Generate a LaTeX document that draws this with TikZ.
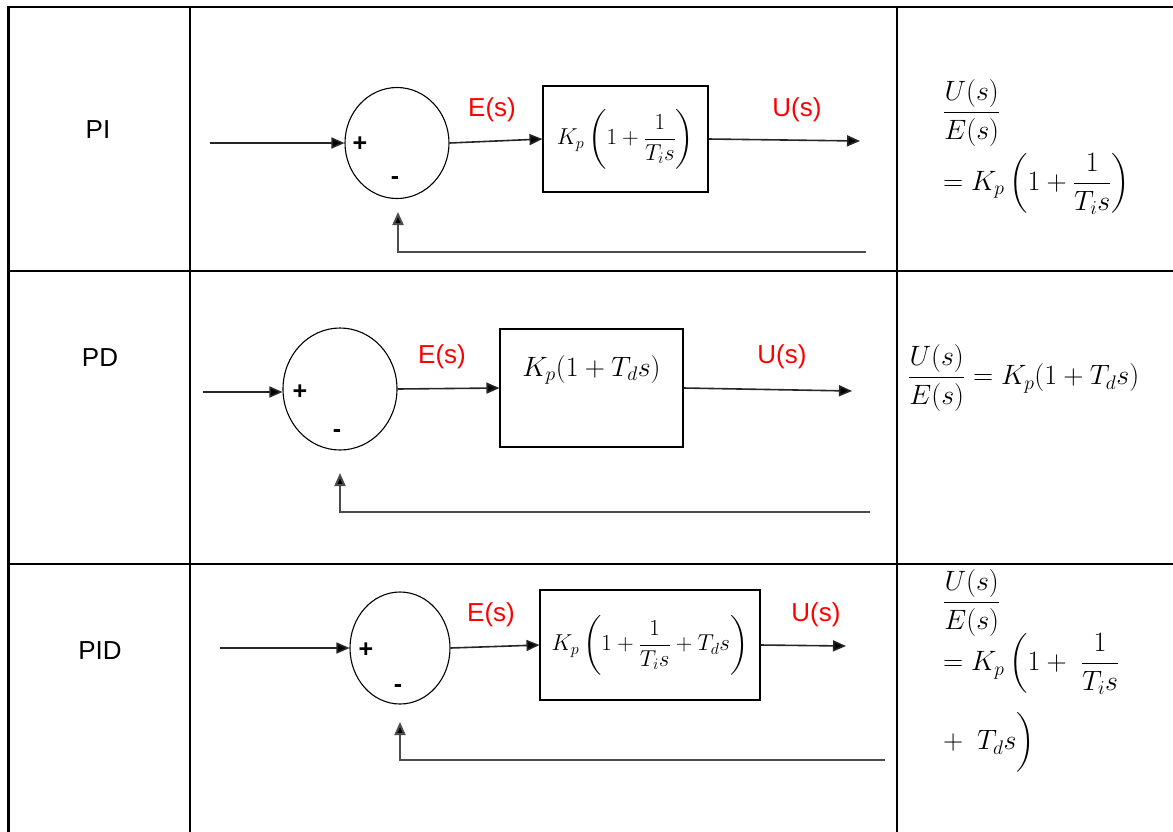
\RequirePackage{fix-cm}
\documentclass[tikz,border=0pt]{standalone}
\usepackage{amsmath}
\usepackage[no-math]{fontspec}
\setmainfont{Liberation Sans}
\usetikzlibrary{arrows.meta,shapes.geometric}
\begin{document}
\begin{tikzpicture}[x=1pt,y=-1pt,
  grid/.style={line width=2.6pt,line cap=rect},
  sumnode/.style={ellipse,draw,line width=1.1pt,inner sep=0pt},
  blk/.style={draw,line width=1.1pt,inner sep=0pt},
  sig/.style={line width=1.6pt,draw=black!85,-{Triangle[length=13pt,width=11pt,fill=black]}},
  fb/.style={line width=2pt,draw=black!70,-{Triangle[length=13pt,width=11pt,fill=black]}},
  sgn/.style={font=\fontsize{25}{28}\selectfont\bfseries},
  rowlbl/.style={font=\fontsize{26}{30}\selectfont},
  sigl/.style={text=red,font=\fontsize{26}{30}\selectfont},
  bigmath/.style={anchor=west,font=\fontsize{28}{32}\selectfont,inner sep=0pt},
  boxmath/.style={font=\fontsize{23}{27}\selectfont}
]
\useasboundingbox (0,0) rectangle (1173,831);
% table
\draw[grid] (8.5,831) -- (8.5,7) -- (1173,7);
\draw[grid] (190,7) -- (190,831);
\draw[grid] (897,7) -- (897,831);
\draw[grid] (8.5,271) -- (1173,271);
\draw[grid] (8.5,564) -- (1173,564);

% row labels
\node[rowlbl] (lPI) at (98,130) {PI};
\node[rowlbl] (lPD) at (100,358) {PD};
\node[rowlbl] (lPID) at (100,651) {PID};

% ---------- PI ----------
\node[sumnode,minimum width=104pt,minimum height=111pt] (c1) at (397,143) {};
\node[blk,minimum width=165pt,minimum height=106pt,boxmath] (b1) at (625.5,139)
  {$K_p\left(1+\dfrac{1}{T_i s}\right)$};
\coordinate (in1) at (210,143);
\coordinate (out1) at (860,141);
\coordinate (fbs1) at (866,252);
\coordinate (fbt1) at (398,212);
\draw[sig] (in1) -- (c1.west);
\draw[sig] (c1.east) -- (b1.west);
\draw[sig] (b1.east) -- (out1);
\draw[fb] (fbs1) -| (fbt1);
\node[sgn] (p1) at (360,144) {+};
\node[sgn] (m1) at (395,181) {-};
\node[sigl] (e1) at (492,110) {E(s)};
\node[sigl] (u1) at (797,110) {U(s)};

% ---------- PD ----------
\node[sumnode,minimum width=114pt,minimum height=122pt] (c2) at (340,389) {};
\node[blk,minimum width=183pt,minimum height=118pt] (b2) at (591.5,388) {};
\node[font=\fontsize{28}{32}\selectfont] (t2) at (591.5,370) {$K_p(1+T_d s)$};
\coordinate (in2) at (203,392);
\coordinate (out2) at (852,391);
\coordinate (fbs2) at (870,512);
\coordinate (fbt2) at (340,473);
\draw[sig] (in2) -- (c2.west |- in2);
\draw[sig] (c2.east) -- (b2.west);
\draw[sig] (b2.east) -- (out2);
\draw[fb] (fbs2) -| (fbt2);
\node[sgn] (p2) at (300,392) {+};
\node[sgn] (m2) at (337,434) {-};
\node[sigl] (e2) at (442,357) {E(s)};
\node[sigl] (u2) at (782,357) {U(s)};

% ---------- PID ----------
\node[sumnode,minimum width=100pt,minimum height=112pt] (c3) at (400,648) {};
\node[blk,minimum width=220pt,minimum height=110pt,boxmath] (b3) at (650,645)
  {$K_p\left(1+\dfrac{1}{T_i s}+T_d s\right)$};
\coordinate (in3) at (220,648);
\coordinate (out3) at (846,646);
\coordinate (fbs3) at (885,760);
\coordinate (fbt3) at (400,722);
\draw[sig] (in3) -- (c3.west);
\draw[sig] (c3.east) -- (b3.west);
\draw[sig] (b3.east) -- (out3);
\draw[fb] (fbs3) -| (fbt3);
\node[sgn] (p3) at (366,650) {+};
\node[sgn] (m3) at (398,689) {-};
\node[sigl] (e3) at (491,615) {E(s)};
\node[sigl] (u3) at (816,615) {U(s)};

% ---------- formulas ----------
\node[bigmath] (f1a) at (943,113) {$\dfrac{U(s)}{E(s)}$};
\node[bigmath] (f1b) at (943,184) {$= K_p\left(1+\dfrac{1}{T_i s}\right)$};
\node[bigmath] (f2) at (908,378) {$\dfrac{U(s)}{E(s)} = K_p(1+T_d s)$};
\node[bigmath] (f3a) at (943,603) {$\dfrac{U(s)}{E(s)}$};
\node[bigmath] (f3b) at (943,664) {$= K_p\left(1+\ \dfrac{1}{T_i s}\right.$};
\node[bigmath] (f3c) at (943,743) {$+\ \left.T_d s\vphantom{\dfrac{1}{T_i s}}\right)$};
\end{tikzpicture}
\end{document}
